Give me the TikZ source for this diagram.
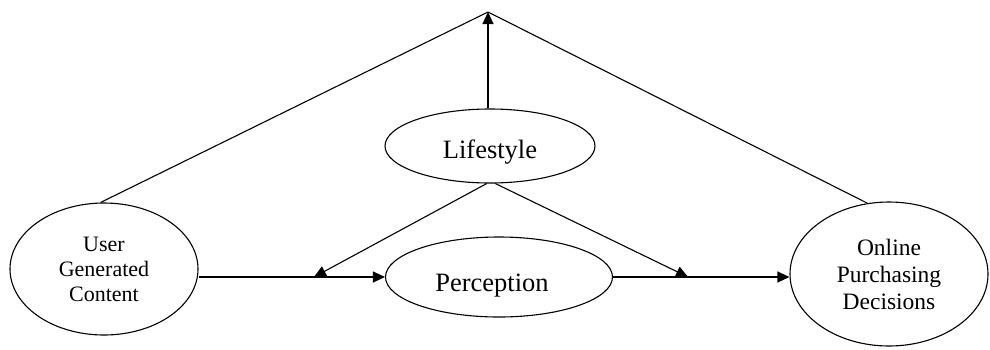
\documentclass[tikz,border=0pt]{standalone}
\usepackage{fontspec}
\setmainfont{Liberation Serif}
\newfontfamily\tnr{Liberation Serif}
\usetikzlibrary{shapes.geometric,arrows.meta}
\begin{document}
\begin{tikzpicture}[x=1pt,y=-1pt,
  oval/.style={ellipse,draw,line width=1.1pt,inner sep=0pt,align=center},
  big/.style={font=\tnr\fontsize{26.5}{30}\selectfont,inner sep=0pt},
  link/.style={line width=1.1pt},
  arr/.style={link,-{Triangle[length=12pt,width=11pt]}}]
\useasboundingbox (0,0) rectangle (990,349);
\node[oval,minimum width=188pt,minimum height=132pt,font=\tnr\fontsize{22}{25}\selectfont] (ugc) at (104,269) {User\\Generated\\Content};
\node[oval,minimum width=210pt,minimum height=74pt] (life) at (490,146) {};
\node[big] (lifeT) at (490,152) {Lifestyle};
\node[oval,minimum width=227pt,minimum height=80pt] (perc) at (499,277) {};
\node[big] (percT) at (492,286) {Perception};
\node[oval,minimum width=198pt,minimum height=144pt,font=\tnr\fontsize{23.5}{27}\selectfont] (opd) at (889,274) {Online\\Purchasing\\Decisions};
\coordinate (apex) at (488,12);
\coordinate (tipL) at (314,277);
\coordinate (tipR) at (688,277);
\draw[arr] (life.north -| apex) -- (apex);
\draw[link] (apex) -- (ugc.93);
\draw[link] (apex) -- (opd.107);
\draw[arr] (ugc.east |- perc.west) -- (perc.west);
\draw[arr] (perc.east) -- (opd.west |- perc.east);
\draw[arr] (life.265) -- (tipL);
\draw[arr] (life.278) -- (tipR);
\end{tikzpicture}
\end{document}
